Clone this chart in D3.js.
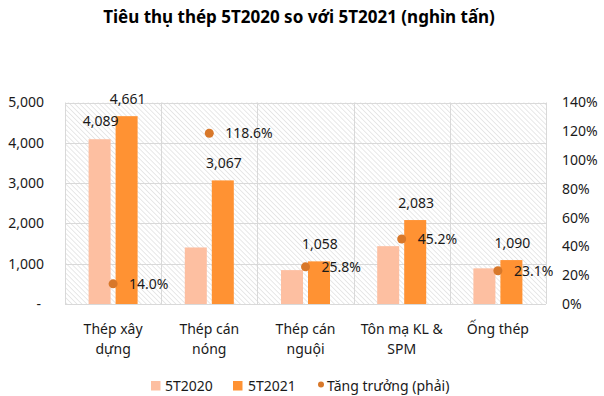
<!DOCTYPE html>
<html><head><meta charset="utf-8">
<script src="https://cdn.jsdelivr.net/npm/d3@7"></script>
<style>
body{margin:0;background:#fff;}
svg{display:block;font-family:"Noto Sans",sans-serif;}
</style></head>
<body><svg id="c" width="604" height="396"></svg>
<script>
const categories = [["Thép xây","dựng"],["Thép cán","nóng"],["Thép cán","nguội"],["Tôn mạ KL &","SPM"],["Ống thép"]];
const v2020 = [4089, 1403, 841, 1435, 885];
const v2021 = [4661, 3067, 1058, 2083, 1090];
const growth = [14.0, 118.6, 25.8, 45.2, 23.1];
const leftTicks = [0,1000,2000,3000,4000,5000];
const rightTicks = [0,20,40,60,80,100,120,140];
const seriesNames = ["5T2020","5T2021","Tăng trưởng (phải)"];
const title = "Tiêu thụ thép 5T2020 so với 5T2021 (nghìn tấn)";

const colors = {c2020:"#FDBFA1", c2021:"#FF9233", dot:"#D8782A", grid:"#d9d9d9", text:"#1a1a1a"};
const svg = d3.select("#c");
const m = {l:65, r:546, t:102.5, b:304};

const x = d3.scaleBand().domain(d3.range(categories.length)).range([m.l, m.r]);
const y = d3.scaleLinear().domain([0,5000]).range([m.b, m.t]);
const y2 = d3.scaleLinear().domain([0,140]).range([m.b, m.t]);

// hatch pattern
const defs = svg.append("defs");
const pat = defs.append("pattern").attr("id","hatch").attr("patternUnits","userSpaceOnUse")
  .attr("width",3.5).attr("height",3.5).attr("patternTransform","rotate(-45)");
pat.append("rect").attr("width",3.5).attr("height",3.5).attr("fill","#fff");
pat.append("line").attr("x1",0).attr("y1",0).attr("x2",0).attr("y2",3.5).attr("stroke","#d2d2d2").attr("stroke-width",1);

svg.append("rect").attr("x",m.l).attr("y",m.t).attr("width",m.r-m.l).attr("height",m.b-m.t).attr("fill","url(#hatch)");

// gridlines
svg.append("g").selectAll("line").data(leftTicks).join("line")
  .attr("x1",m.l).attr("x2",m.r).attr("y1",d=>Math.round(y(d))+0.5).attr("y2",d=>Math.round(y(d))+0.5)
  .attr("stroke",colors.grid).attr("stroke-width",1);
const bounds = d3.range(categories.length+1).map(i=> i<categories.length ? x(i) : m.r);
svg.append("g").selectAll("line").data(bounds).join("line")
  .attr("x1",d=>Math.round(d)+0.5).attr("x2",d=>Math.round(d)+0.5).attr("y1",m.t).attr("y2",m.b)
  .attr("stroke",colors.grid).attr("stroke-width",1);

// bars
const bw = 22, gap = 5;
const cx = i => x(i) + x.bandwidth()/2;
svg.append("g").selectAll("rect").data(v2020).join("rect")
  .attr("x",(d,i)=>cx(i)-gap/2-bw).attr("width",bw)
  .attr("y",d=>y(d)).attr("height",d=>m.b-y(d)).attr("fill",colors.c2020);
svg.append("g").selectAll("rect").data(v2021).join("rect")
  .attr("x",(d,i)=>cx(i)+gap/2).attr("width",bw)
  .attr("y",d=>y(d)).attr("height",d=>m.b-y(d)).attr("fill",colors.c2021);

const fmt = d3.format(",");
// labels
const lab = svg.append("g").attr("font-size",14).attr("fill",colors.text).attr("text-anchor","middle");
lab.append("text").attr("x",cx(0)-gap/2-bw/2+1).attr("y",y(v2020[0])-13).text(fmt(v2020[0]));
lab.selectAll(null).data(v2021).join("text")
  .attr("x",(d,i)=>cx(i)+gap/2+bw/2+1).attr("y",d=>y(d)-12).text(d=>fmt(d));

// dots
svg.append("g").selectAll("circle").data(growth).join("circle")
  .attr("cx",(d,i)=>cx(i)).attr("cy",d=>y2(d)).attr("r",4.5).attr("fill",colors.dot);
svg.append("g").attr("font-size",14).attr("fill",colors.text).selectAll("text").data(growth).join("text")
  .attr("x",(d,i)=>cx(i)+16).attr("y",d=>y2(d)).attr("dy","0.35em").text(d=>d.toFixed(1)+"%");

// axes
const la = svg.append("g").attr("font-size",14).attr("fill",colors.text).attr("text-anchor","end");
la.selectAll("text").data(leftTicks).join("text")
  .attr("x",d=> d===0 ? 41 : 44).attr("y",d=>y(d)).attr("dy","0.35em").text(d=> d===0 ? "-" : fmt(d));
const ra = svg.append("g").attr("font-size",14).attr("fill",colors.text).attr("text-anchor","start");
ra.selectAll("text").data(rightTicks).join("text")
  .attr("x",562).attr("y",d=>y2(d)).attr("dy","0.35em").text(d=>d+"%");

// x labels
const xl = svg.append("g").attr("font-size",14).attr("fill",colors.text).attr("text-anchor","middle");
categories.forEach((lines,i)=>{
  lines.forEach((t,j)=>{
    xl.append("text").attr("x",cx(i)).attr("y",334+j*20).text(t);
  });
});

// title
svg.append("text").attr("x",299).attr("y",23).attr("text-anchor","middle")
  .attr("font-size",17).attr("font-weight","bold").attr("fill","#000").text(title);

// legend
const lg = svg.append("g").attr("font-size",14).attr("fill",colors.text);
lg.append("rect").attr("x",151).attr("y",381).attr("width",9.5).attr("height",9.5).attr("fill",colors.c2020);
lg.append("text").attr("x",165).attr("y",386).attr("dy","0.35em").text(seriesNames[0]);
lg.append("rect").attr("x",233).attr("y",381).attr("width",9.5).attr("height",9.5).attr("fill",colors.c2021);
lg.append("text").attr("x",248).attr("y",386).attr("dy","0.35em").text(seriesNames[1]);
lg.append("circle").attr("cx",321).attr("cy",384.5).attr("r",3).attr("fill",colors.dot);
lg.append("text").attr("x",327).attr("y",386).attr("dy","0.35em").text(seriesNames[2]);
</script></body></html>
